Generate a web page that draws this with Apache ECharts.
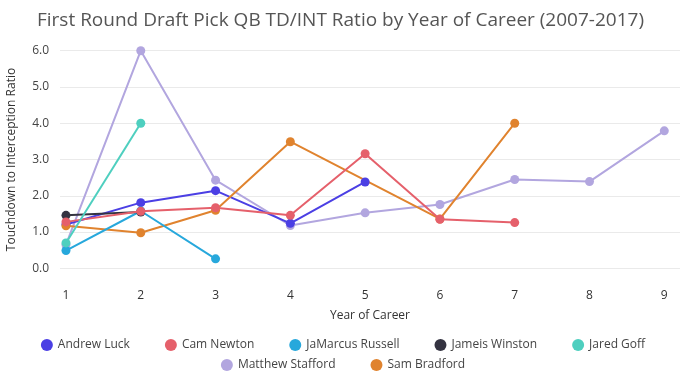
<!DOCTYPE html>
<html>
<head>
<meta charset="utf-8">
<script src="https://cdn.jsdelivr.net/npm/echarts@6/dist/echarts.min.js"></script>
<style>html,body{margin:0;padding:0;background:#fff}#c{width:686px;height:386px}</style>
</head>
<body>
<div id="c"></div>
<script>
const years = [1, 2, 3, 4, 5, 6, 7, 8, 9];
const andrewLuck = [1.21, 1.81, 2.14, 1.24, 2.38];
const camNewton = [1.28, 1.57, 1.67, 1.46, 3.16, 1.35, 1.26];
const jamarcusRussell = [0.49, 1.58, 0.26];
const jameisWinston = [1.46, 1.55];
const jaredGoff = [0.7, 4.0];
const matthewStafford = [0.65, 6.0, 2.43, 1.18, 1.53, 1.76, 2.45, 2.39, 3.79];
const samBradford = [1.17, 0.98, 1.6, 3.49, null, 1.36, 4.0];
const yTicks = [0, 1, 2, 3, 4, 5, 6];

const seriesDefs = [
  {name: 'Andrew Luck', data: andrewLuck, color: '#4b3fe4', z: 3},
  {name: 'Cam Newton', data: camNewton, color: '#e5606b', z: 5},
  {name: 'JaMarcus Russell', data: jamarcusRussell, color: '#27a8dc', z: 4},
  {name: 'Jameis Winston', data: jameisWinston, color: '#343341', z: 4},
  {name: 'Jared Goff', data: jaredGoff, color: '#4ecfbf', z: 6},
  {name: 'Matthew Stafford', data: matthewStafford, color: '#b2a6df', z: 2},
  {name: 'Sam Bradford', data: samBradford, color: '#e0832e', z: 3}
];

const chart = echarts.init(document.getElementById('c'), null, {renderer: 'canvas'});
const font = '"Open Sans", "DejaVu Sans", sans-serif';
const names = seriesDefs.map(s => s.name);
const legendCommon = {
  icon: 'circle', itemWidth: 12, itemHeight: 12, itemGap: 35,
  textStyle: {fontFamily: font, fontSize: 12, color: '#444'},
  selectedMode: false
};
chart.setOption({
  animation: false,
  color: seriesDefs.map(s => s.color),
  title: {
    text: 'First Round Draft Pick QB TD/INT Ratio by Year of Career (2007-2017)',
    left: 32, top: 6,
    textStyle: {fontFamily: font, fontSize: 19, fontWeight: 'normal', color: '#555'}
  },
  legend: [
    Object.assign({data: names.slice(0, 5), left: 'center', top: 334, padding: [5, 5, 5, 9]}, legendCommon),
    Object.assign({data: names.slice(5), left: 'center', top: 354}, legendCommon)
  ],
  grid: {left: 60, right: 6, top: 50.7, bottom: 117.7, containLabel: false, outerBoundsMode: 'none'},
  xAxis: {
    type: 'value', min: 0.92, max: 9.21, minInterval: 1, maxInterval: 1,
    name: 'Year of Career', nameLocation: 'middle', nameGap: 41,
    nameTextStyle: {fontFamily: font, fontSize: 12, color: '#333'},
    axisLine: {show: false}, axisTick: {show: false}, splitLine: {show: false},
    axisLabel: {
      margin: 21, fontFamily: font, fontSize: 12, color: '#333',
      formatter: v => (Math.abs(v - Math.round(v)) < 1e-6 && years.includes(Math.round(v))) ? String(Math.round(v)) : ''
    }
  },
  yAxis: {
    type: 'value', min: yTicks[0], max: yTicks[yTicks.length - 1], interval: 1,
    name: 'Touchdown to Interception Ratio', nameLocation: 'middle', nameGap: 42,
    nameTextStyle: {fontFamily: font, fontSize: 12, color: '#333'},
    axisLine: {show: false}, axisTick: {show: false},
    splitLine: {lineStyle: {color: '#eaeaea', width: 1}},
    axisLabel: {margin: 11, fontFamily: font, fontSize: 12, color: '#444', formatter: v => v.toFixed(1)}
  },
  series: seriesDefs.map(s => ({
    name: s.name, type: 'line', z: s.z,
    data: s.data.map((v, i) => [years[i], v]),
    connectNulls: true, clip: false,
    symbol: 'circle', symbolSize: 9, showSymbol: true,
    lineStyle: {width: 2, color: s.color},
    itemStyle: {color: s.color}
  }))
});
</script>
</body>
</html>
